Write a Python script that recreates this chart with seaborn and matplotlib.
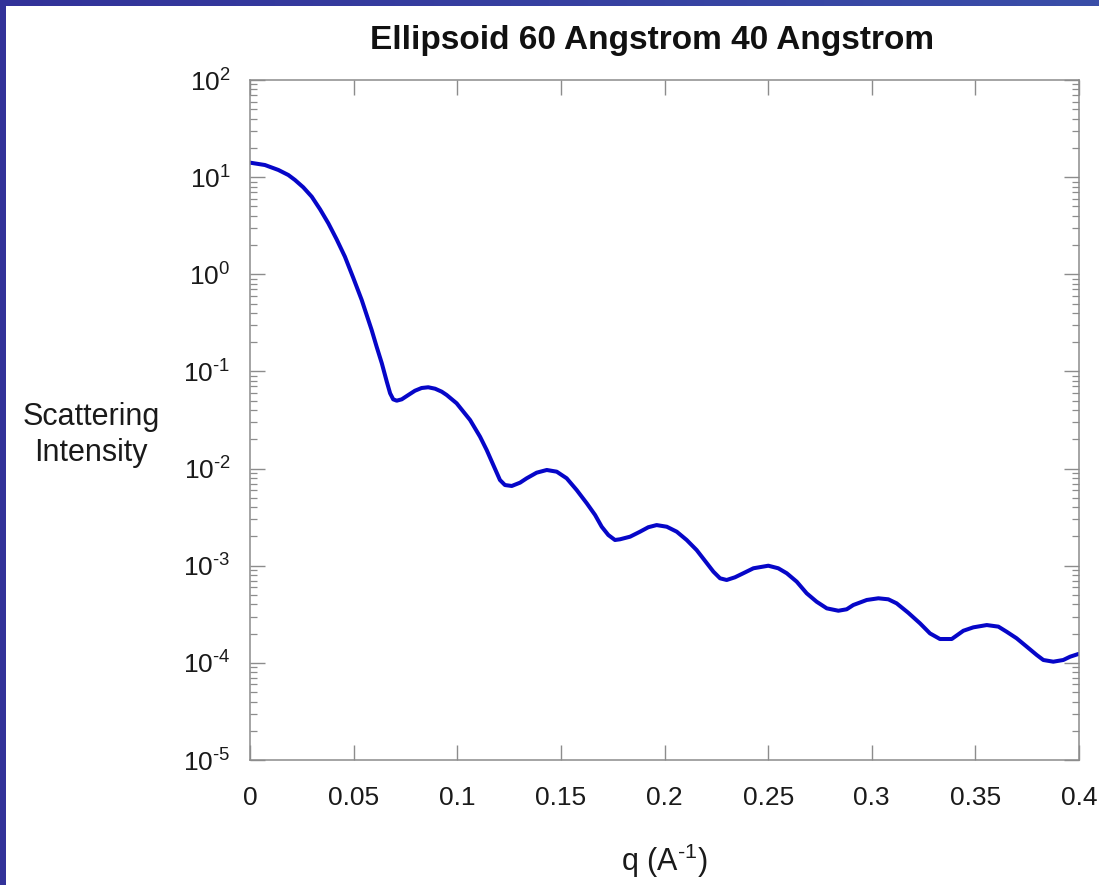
import numpy as np
import pandas as pd
import matplotlib
matplotlib.use("Agg")
import matplotlib.pyplot as plt
from matplotlib.ticker import FixedLocator, FuncFormatter, LogLocator, NullLocator
import seaborn as sns

# Scattering curve of a 60 A x 40 A ellipsoid
q_values = [
    0.0, 0.0072, 0.0137, 0.0185, 0.0217, 0.0257, 0.0298, 0.0338, 0.0378, 0.0418,
    0.0458, 0.0498, 0.0539, 0.0563, 0.0587, 0.0611, 0.0636, 0.0660, 0.0676, 0.0691,
    0.0708, 0.0732, 0.0764, 0.0796, 0.0828, 0.0860, 0.0893, 0.0925, 0.0949, 0.0997,
    0.1062, 0.1110, 0.1142, 0.1174, 0.1206, 0.1230, 0.1263, 0.1303, 0.1335, 0.1383,
    0.1432, 0.1480, 0.1528, 0.1576, 0.1625, 0.1665, 0.1697, 0.1729, 0.1761, 0.1785,
    0.1834, 0.1882, 0.1922, 0.1962, 0.2011, 0.2059, 0.2107, 0.2155, 0.2195, 0.2236,
    0.2268, 0.2300, 0.2340, 0.2380, 0.2429, 0.2501, 0.2549, 0.2590, 0.2638, 0.2686,
    0.2734, 0.2783, 0.2839, 0.2879, 0.2911, 0.2976, 0.3032, 0.3080, 0.3120, 0.3176,
    0.3233, 0.3281, 0.3329, 0.3386, 0.3442, 0.3490, 0.3555, 0.3611, 0.3651, 0.3699,
    0.3748, 0.3796, 0.3828, 0.3876, 0.3924, 0.3957, 0.3997,
]
intensity = [
    14.1, 13.33, 11.85, 10.52, 9.35, 7.86, 6.29, 4.67, 3.35, 2.29,
    1.517, 0.922, 0.544, 0.381, 0.267, 0.1797, 0.1213, 0.0784, 0.0596, 0.0516,
    0.0500, 0.0516, 0.0572, 0.0633, 0.0675, 0.0687, 0.0664, 0.0619, 0.0572, 0.0470,
    0.0316, 0.02128, 0.01553, 0.01088, 0.00763, 0.00677, 0.00662, 0.00716, 0.00794, 0.00907,
    0.00967, 0.00929, 0.00794, 0.00602, 0.00439, 0.00333, 0.00252, 0.00207, 0.00184, 0.00187,
    0.00199, 0.00224, 0.00249, 0.00262, 0.00252, 0.00224, 0.00184, 0.00145, 0.001126, 0.000868,
    0.000742, 0.000713, 0.000760, 0.000836, 0.000941, 0.00100, 0.000941, 0.000836, 0.000685, 0.000520,
    0.000426, 0.000364, 0.000344, 0.000356, 0.000394, 0.000444, 0.000462, 0.000451, 0.000410, 0.000328,
    0.000255, 0.000201, 0.000176, 0.000176, 0.000214, 0.000232, 0.000245, 0.000236, 0.000209, 0.000179,
    0.0001467, 0.0001205, 0.000107, 0.0001028, 0.000107, 0.0001157, 0.0001234,
]

x_ticks = [0, 0.05, 0.1, 0.15, 0.2, 0.25, 0.3, 0.35, 0.4]
title_text = "Ellipsoid 60 Angstrom 40 Angstrom"
x_label = "q (A$^{\u2010" + "1}$)"
y_label = "Scattering\nIntensity"

sns.set_theme(style="white")
plt.rcParams["font.family"] = ["Liberation Sans", "DejaVu Sans"]
plt.rcParams["mathtext.fontset"] = "custom"
plt.rcParams["mathtext.rm"] = "Liberation Sans"
plt.rcParams["mathtext.default"] = "regular"
plt.rcParams["axes.unicode_minus"] = False

W, H = 1099, 885
fig = plt.figure(figsize=(W / 100, H / 100), dpi=100)
fig.patch.set_facecolor("white")

# blue slide frame: top band with a gradient, left band solid
top = fig.add_axes([0, 1 - 6 / H, 1, 6 / H])
grad = np.linspace(0, 1, 256).reshape(1, -1)
cmap = matplotlib.colors.LinearSegmentedColormap.from_list("band", ["#323299", "#3a4ea8"])
top.imshow(grad, aspect="auto", cmap=cmap, extent=[0, 1, 0, 1])
top.set_axis_off()
left = fig.add_axes([0, 0, 6 / W, 1])
left.set_facecolor("#323299")
left.set_xticks([]); left.set_yticks([])
for s in left.spines.values():
    s.set_visible(False)

ax = fig.add_axes([250 / W, (H - 760) / H, 829 / W, 680 / H])
df = pd.DataFrame({"q": q_values, "I": intensity})
sns.lineplot(data=df, x="q", y="I", ax=ax, color="#0606c8", linewidth=2.9, sort=False)


def decade_label(v, pos):
    n = int(round(np.log10(v)))
    exp = ("\u2010" + str(-n)) if n < 0 else str(n)
    return "$10^{" + exp + "}$"


ax.set_yscale("log")
ax.set_ylim(1e-5, 1e2)
ax.set_xlim(0, 0.4)
ax.xaxis.set_major_locator(FixedLocator(x_ticks))
ax.xaxis.set_minor_locator(NullLocator())
ax.xaxis.set_major_formatter(FuncFormatter(lambda v, p: f"{v:g}"))
ax.yaxis.set_major_locator(LogLocator(base=10, numticks=20))
ax.yaxis.set_minor_locator(LogLocator(base=10, subs=np.arange(2, 10), numticks=20))
ax.yaxis.set_major_formatter(FuncFormatter(decade_label))

gray = "#8c8c8c"
for s in ax.spines.values():
    s.set_color(gray)
    s.set_linewidth(1.1)
ax.tick_params(axis="x", which="major", direction="in", length=10.5, width=1.0,
               color=gray, top=True, bottom=True, labelsize=19, pad=19,
               labelcolor="#1a1a1a")
ax.tick_params(axis="y", which="major", direction="in", length=11, width=1.0,
               color=gray, left=True, right=True, labelsize=19, pad=14,
               labelcolor="#1a1a1a")
ax.tick_params(axis="y", which="minor", direction="in", length=5, width=0.9,
               color=gray, left=True, right=True)

ax.set_xlabel(x_label, fontsize=22, color="#1a1a1a")
ax.xaxis.set_label_coords(0.5, -0.12)
ax.set_ylabel(y_label, fontsize=22, rotation=0, ha="center", va="center",
              color="#1a1a1a", linespacing=1.25)
ax.yaxis.set_label_coords(-0.192, 0.478)
ax.set_title(title_text, fontsize=24, fontweight="bold", x=0.485, pad=22,
             color="#111111")

fig.savefig("out.png", dpi=100)
